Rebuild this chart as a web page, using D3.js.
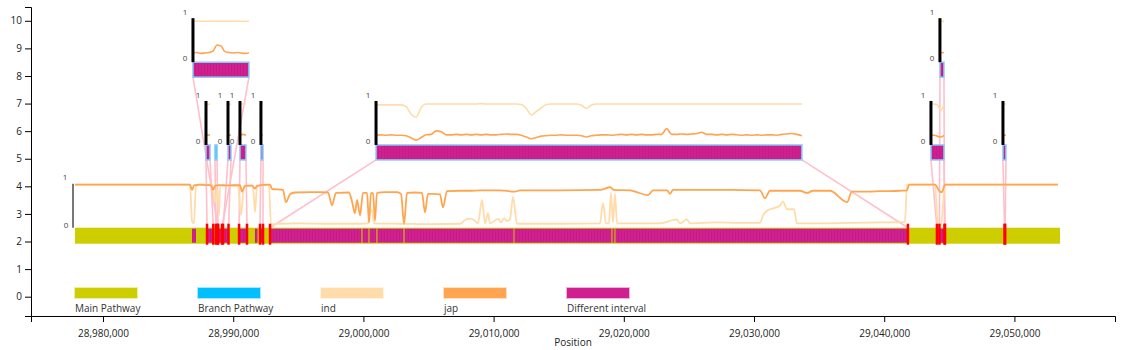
<!DOCTYPE html>
<html>
<head>
<meta charset="utf-8">
<script src="https://cdn.jsdelivr.net/npm/d3@7"></script>
<style>
  body { margin: 0; background: #fff; }
  svg { display: block; font-family: "Open Sans", "DejaVu Sans", sans-serif; }
</style>
</head>
<body>
<svg id="chart" width="1128" height="350"></svg>
<script>
// ---- Data -------------------------------------------------------------
const legendLabels = ["Main Pathway", "Branch Pathway", "ind", "jap", "Different interval"];
const legendColors = ["#cdcd00", "#00bfff", "#ffdcaa", "#ffa54f", "#d02090"];

const yTicks = [0, 1, 2, 3, 4, 5, 6, 7, 8, 9, 10];
const xTicks = [28980000, 28990000, 29000000, 29010000, 29020000, 29030000, 29040000, 29050000];

// main pathway extent (bp)
const mainPathway = [28977850, 29053500];

// intervals on the main pathway that differ between ind and jap (bp)
const diffIntervals = [
  [28986840, 28987140], [28987990, 28988490], [28988830, 28989140], [28989220, 28989640],
  [28990520, 28990980], [28991670, 28991870], [28992060, 28992290],
  [28992830, 28999850], [28999930, 29000390], [29000470, 29001000], [29001080, 29003080],
  [29003160, 29011530], [29011600, 29019050], [29019130, 29019280], [29019360, 29041820],
  [29044280, 29044630], [29049200, 29049350]
];

// fraction of ind / jap haplotypes following the main pathway, [position, value]
const indMain = [
  [28977850,0.98],[28986680,0.98],[28986840,0.15],[28986990,0.10],[28987140,0.95],[28987450,0.98],
  [28988370,0.98],[28988600,0.58],[28988760,0.90],[28988910,0.28],[28988990,0.95],[28990370,0.96],
  [28990600,0.28],[28990830,0.95],[28991520,0.95],[28991670,0.35],[28991830,0.95],[28992520,0.97],
  [28992750,0.97],[28992900,0.08],[28993590,0.09],[28995130,0.10],[28997430,0.09],[28999740,0.09],
  [29000350,0.10],[29000510,0.35],[29000660,0.40],[29000810,0.10],[29002810,0.09],[29005110,0.08],
  [29007420,0.09],[29007960,0.20],[29008340,0.20],[29008800,0.10],[29009110,0.63],[29009340,0.10],
  [29009570,0.33],[29009720,0.10],[29010340,0.20],[29010570,0.12],[29010800,0.22],[29011030,0.15],
  [29011260,0.20],[29011490,0.70],[29011800,0.09],[29015100,0.09],[29018170,0.10],[29018400,0.56],
  [29018630,0.10],[29018860,0.10],[29019010,0.79],[29019170,0.12],[29019320,0.77],[29019480,0.10],
  [29022780,0.10],[29024080,0.19],[29024310,0.10],[29024850,0.19],[29025080,0.10],[29027160,0.12],
  [29028920,0.11],[29030460,0.11],[29030690,0.28],[29031070,0.40],[29031610,0.45],[29031990,0.50],
  [29032220,0.60],[29032530,0.42],[29032760,0.42],[29033070,0.42],[29033300,0.10],[29035070,0.10],
  [29037370,0.11],[29039670,0.12],[29041590,0.13],[29041750,0.98],[29043900,0.98],[29044130,0.05],
  [29044360,0.05],[29044670,0.98],[29053340,0.98]
];
const japMain = [
  [28977850,0.98],[28986680,0.98],[28986840,0.86],[28986990,0.96],[28987450,0.98],[28987910,0.97],
  [28988290,0.97],[28988450,0.86],[28988600,0.95],[28988830,0.97],[28989140,0.97],[28989450,0.96],
  [28990520,0.97],[28990680,0.82],[28990910,0.95],[28991440,0.96],[28991670,0.89],[28991830,0.95],
  [28992670,0.98],[28992830,0.98],[28992980,0.88],[28993820,0.86],[28994050,0.58],[28994360,0.76],
  [28994750,0.80],[28995900,0.81],[28996670,0.81],[28997280,0.80],[28997590,0.51],[28997890,0.79],
  [28998890,0.80],[28999120,0.60],[28999350,0.33],[28999510,0.63],[28999740,0.28],[28999970,0.79],
  [29000280,0.79],[29000430,0.12],[29000580,0.79],[29000740,0.78],[29000890,0.16],[29001040,0.79],
  [29001660,0.81],[29002580,0.81],[29002890,0.77],[29003120,0.09],[29003350,0.79],[29003960,0.80],
  [29004500,0.79],[29004730,0.35],[29004960,0.77],[29005340,0.77],[29005880,0.76],[29006110,0.46],
  [29006420,0.83],[29007420,0.84],[29008190,0.84],[29008950,0.85],[29010490,0.85],[29011640,0.82],
  [29012030,0.85],[29015100,0.85],[29018170,0.86],[29018940,0.92],[29019250,0.86],[29020470,0.85],
  [29021860,0.74],[29022240,0.85],[29023320,0.85],[29023550,0.77],[29023780,0.86],[29025850,0.86],
  [29028150,0.86],[29030460,0.85],[29030840,0.67],[29031230,0.84],[29033530,0.84],[29034070,0.79],
  [29034530,0.84],[29035830,0.84],[29037140,0.58],[29037520,0.82],[29038680,0.82],[29039670,0.83],
  [29041210,0.84],[29041750,0.85],[29041900,0.98],[29043900,0.98],[29044280,0.82],[29044440,0.81],
  [29044670,0.98],[29053340,0.98]
];

// per-branch ind / jap fractions, evenly sampled along each branch
const branchAInd = [0.93, 0.92, 0.93];
const branchAJap = [0.22, 0.23, 0.22];
const branchCInd = [0.93, 0.93, 0.93, 0.93, 0.93, 0.93, 0.93, 0.93, 0.93, 0.93, 0.93, 0.93, 0.93, 0.93, 0.93];
const branchCJap = [0.21, 0.22, 0.20, 0.21, 0.22, 0.25, 0.39, 0.37, 0.24, 0.22, 0.21, 0.22, 0.21, 0.20, 0.21];
const branchDInd = [0.93, 0.93, 0.92];
const branchDJap = [0.23, 0.22, 0.23];
const branchEInd = [0.93, 0.93, 0.93];
const branchEJap = [0.22, 0.24, 0.22];
const branchFInd = [0.93, 0.93];
const branchFJap = [0.22, 0.22];
const branchGInd = [
  0.91,0.91,0.91,0.91,0.91,0.91,0.87,0.70,0.63,0.85,0.93,0.93,0.93,0.93,0.93,0.93,0.93,0.93,0.93,0.93,
  0.93,0.94,0.93,0.93,0.93,0.93,0.93,0.93,0.93,0.92,0.83,0.68,0.76,0.84,0.92,0.93,0.93,0.93,0.93,0.93,
  0.93,0.90,0.83,0.91,0.93,0.93,0.93,0.93,0.93,0.93,0.93,0.93,0.93,0.93,0.93,0.93,0.93,0.93,0.93,0.93,
  0.93,0.93,0.93,0.93,0.93,0.93,0.93,0.93,0.93,0.93,0.93,0.93,0.93,0.93,0.93,0.93,0.93,0.93,0.93,0.93,
  0.93,0.93,0.93,0.93,0.93,0.93
];
const branchGJap = [
  0.22,0.23,0.22,0.23,0.22,0.22,0.21,0.16,0.11,0.17,0.23,0.24,0.32,0.30,0.23,0.23,0.24,0.23,0.24,0.23,
  0.24,0.23,0.24,0.23,0.23,0.24,0.25,0.24,0.24,0.22,0.18,0.14,0.17,0.20,0.21,0.22,0.22,0.23,0.22,0.22,
  0.22,0.21,0.18,0.21,0.22,0.23,0.23,0.22,0.23,0.24,0.23,0.24,0.23,0.24,0.23,0.23,0.24,0.24,0.37,0.24,
  0.24,0.25,0.24,0.25,0.26,0.29,0.24,0.24,0.23,0.24,0.23,0.24,0.23,0.22,0.23,0.22,0.23,0.22,0.23,0.23,
  0.22,0.24,0.25,0.26,0.24,0.21
];
const branchHInd = [0.93, 0.93, 0.91, 0.78, 0.93];
const branchHJap = [0.22, 0.22, 0.20, 0.18, 0.22];
const branchIInd = [0.93, 0.93];
const branchIJap = [0.21, 0.22];
const branchJInd = [0.93, 0.93];
const branchJJap = [0.22, 0.22];

// branch pathways: track level, drawn span (bp), linked interval on the main pathway (bp)
const branches = [
  { level: 5, span: [28987910, 28988220], link: [28987990, 28988470], diff: true,  ind: branchAInd, jap: branchAJap },
  { level: 5, span: [28988600, 28988760], link: [28988680, 28988830], diff: false },
  { level: 8, span: [28986910, 28991210], link: [28988830, 28989140], diff: true,  ind: branchCInd, jap: branchCJap },
  { level: 5, span: [28989600, 28989830], link: [28989220, 28989640], diff: true,  ind: branchDInd, jap: branchDJap },
  { level: 5, span: [28990520, 28990980], link: [28990450, 28991060], diff: true,  ind: branchEInd, jap: branchEJap },
  { level: 5, span: [28992130, 28992290], link: [28992060, 28992290], diff: true,  ind: branchFInd, jap: branchFJap },
  { level: 5, span: [29000970, 29033680], link: [28992830, 29041820], diff: true,  ind: branchGInd, jap: branchGJap },
  { level: 5, span: [29043590, 29044590], link: [29044050, 29044670], diff: true,  ind: branchHInd, jap: branchHJap },
  { level: 8, span: [29044280, 29044590], link: [29044240, 29044630], diff: true,  ind: branchIInd, jap: branchIJap },
  { level: 5, span: [29049120, 29049350], link: [29049240, 29049290], diff: true,  ind: branchJInd, jap: branchJJap }
];
const mainLevel = 2;

// ---- Layout -----------------------------------------------------------
const svg = d3.select("#chart");
const x = d3.scaleLinear().domain([28974470, 29057725]).range([31, 1115]);
const y = d3.scaleLinear().domain([-0.7, 10.5]).range([316, 7]);

const BAR_H = 15;          // track bar height (px)
const LINE_H = 44;         // height of the 0..1 fraction axis (px)
const trackTop = lvl => y(lvl + 0.5);
const fracScale = lvl => d3.scaleLinear().domain([0, 1]).range([trackTop(lvl), trackTop(lvl) - LINE_H]);

// stripe pattern for differing intervals
const defs = svg.append("defs");
const pat = defs.append("pattern").attr("id", "diffFill")
  .attr("patternUnits", "userSpaceOnUse").attr("width", 3).attr("height", 20);
pat.append("rect").attr("width", 3).attr("height", 20).attr("fill", "#d02090");
pat.append("rect").attr("width", 0.8).attr("height", 20).attr("fill", "#b8157c").attr("opacity", 0.55);

// ---- Axes -------------------------------------------------------------
svg.append("g").attr("transform", "translate(31,0)")
  .call(d3.axisLeft(y).tickValues(yTicks).tickSizeOuter(6));
svg.append("g").attr("transform", "translate(0,316)")
  .call(d3.axisBottom(x).tickValues(xTicks).tickFormat(d3.format(",")).tickSizeOuter(6).tickPadding(8));
svg.selectAll(".tick text").attr("font-size", 10).attr("fill", "#222")
  .attr("font-family", "\"Open Sans\", sans-serif");
svg.append("text").attr("x", 573).attr("y", 346).attr("text-anchor", "middle")
  .attr("font-size", 10).attr("fill", "#222").text("Position");

// ---- Connectors from branches to the main pathway ----------------------
const conn = svg.append("g").attr("stroke", "#ffc0cb").attr("stroke-width", 1.6).attr("fill", "none");
branches.forEach(b => {
  const yb = trackTop(b.level) + BAR_H;
  const ym = trackTop(mainLevel);
  conn.append("line").attr("x1", x(b.span[0])).attr("y1", yb).attr("x2", x(b.link[0])).attr("y2", ym);
  conn.append("line").attr("x1", x(b.span[1])).attr("y1", yb).attr("x2", x(b.link[1])).attr("y2", ym);
});

// ---- Main pathway -----------------------------------------------------
const mainTop = trackTop(mainLevel);
svg.append("rect")
  .attr("x", x(mainPathway[0])).attr("y", mainTop)
  .attr("width", x(mainPathway[1]) - x(mainPathway[0])).attr("height", BAR_H + 1)
  .attr("fill", "#cdcd00");
svg.append("g").selectAll("rect").data(diffIntervals).join("rect")
  .attr("x", d => x(d[0])).attr("y", mainTop + 1)
  .attr("width", d => Math.max(1, x(d[1]) - x(d[0]))).attr("height", BAR_H - 1)
  .attr("fill", "url(#diffFill)");

// fraction lines over the main pathway
const mainFrac = fracScale(mainLevel);
const mainLine = d3.line().x(d => x(d[0])).y(d => mainFrac(d[1])).curve(d3.curveMonotoneX);
svg.append("path").attr("d", mainLine(indMain)).attr("fill", "none")
  .attr("stroke", "#ffdcaa").attr("stroke-width", 1.8);
svg.append("path").attr("d", mainLine(japMain)).attr("fill", "none")
  .attr("stroke", "#ffa54f").attr("stroke-width", 1.8);

// 0..1 axis for the main pathway
const mainAxisX = x(mainPathway[0]) - 2;
svg.append("line").attr("x1", mainAxisX).attr("x2", mainAxisX)
  .attr("y1", mainFrac(0)).attr("y2", mainFrac(1))
  .attr("stroke", "#555").attr("stroke-width", 1.6);
svg.append("text").attr("x", mainAxisX - 8).attr("y", mainFrac(1) - 7).attr("dy", "0.35em")
  .attr("text-anchor", "middle").attr("font-size", 8).attr("fill", "#444").text("1");
svg.append("text").attr("x", mainAxisX - 7).attr("y", mainFrac(0) - 3).attr("dy", "0.35em")
  .attr("text-anchor", "middle").attr("font-size", 8).attr("fill", "#444").text("0");

// boundaries of linked intervals
const bounds = branches.flatMap(b => b.link);
svg.append("g").selectAll("rect").data(bounds).join("rect")
  .attr("x", d => x(d) - 1.25).attr("y", mainTop - 4)
  .attr("width", 2.5).attr("height", BAR_H + 6)
  .attr("fill", "#ff0000");

// ---- Branch pathways --------------------------------------------------
branches.forEach(b => {
  const g = svg.append("g");
  const top = trackTop(b.level);
  const x0 = x(b.span[0]), x1 = x(b.span[1]);
  g.append("rect").attr("x", x0).attr("y", top)
    .attr("width", Math.max(1.5, x1 - x0)).attr("height", BAR_H)
    .attr("fill", b.diff ? "url(#diffFill)" : "#00bfff")
    .attr("stroke", "#87cefa").attr("stroke-width", 1.5);
  if (!b.ind) return;
  const fy = fracScale(b.level);
  const fx = d3.scaleLinear().domain([0, b.ind.length - 1]).range([x0, x1]);
  const ln = d3.line().x((d, i) => fx(i)).y(d => fy(d)).curve(d3.curveMonotoneX);
  g.append("path").attr("d", ln(b.ind)).attr("fill", "none").attr("stroke", "#ffdcaa").attr("stroke-width", 1.6);
  g.append("path").attr("d", ln(b.jap)).attr("fill", "none").attr("stroke", "#ffa54f").attr("stroke-width", 1.6);
  g.append("line").attr("x1", x0).attr("x2", x0).attr("y1", fy(0)).attr("y2", fy(1))
    .attr("stroke", "#000").attr("stroke-width", 3);
  g.append("text").attr("x", x0 - 8).attr("y", fy(1) - 6).attr("dy", "0.35em")
    .attr("text-anchor", "middle").attr("font-size", 8).attr("fill", "#444").text("1");
  g.append("text").attr("x", x0 - 8).attr("y", fy(0) - 4).attr("dy", "0.35em")
    .attr("text-anchor", "middle").attr("font-size", 8).attr("fill", "#444").text("0");
});

// ---- Legend -----------------------------------------------------------
const legend = svg.append("g").selectAll("g").data(legendLabels).join("g")
  .attr("transform", (d, i) => `translate(${75 + i * 123},288)`);
legend.append("rect").attr("width", 62).attr("height", 10)
  .attr("fill", (d, i) => legendColors[i])
  .attr("stroke", (d, i) => legendColors[i]).attr("stroke-opacity", 0.35).attr("stroke-width", 2);
legend.append("text").attr("x", 0).attr("y", 24).attr("font-size", 10).attr("fill", "#333").text(d => d);
</script>
</body>
</html>
